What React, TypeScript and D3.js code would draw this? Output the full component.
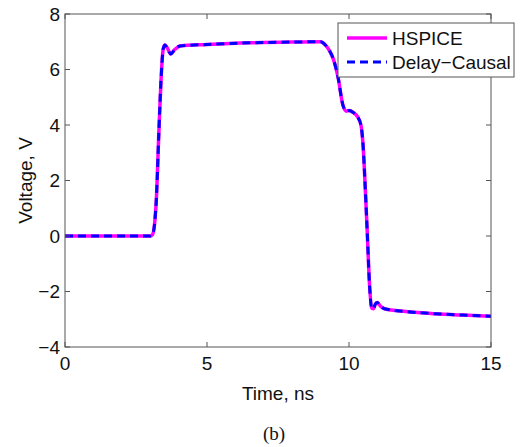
import { useEffect, useRef } from 'react';
import * as d3 from 'd3';

// time (ns) samples
const timeNs = [
  0, 1, 2, 3.0, 3.08, 3.15, 3.22, 3.3, 3.38, 3.46, 3.52, 3.6, 3.72, 3.85, 4.05, 5, 6.5, 8, 9.0,
  9.15, 9.3, 9.44, 9.61, 9.79, 9.9, 10.0, 10.15, 10.3, 10.42, 10.5, 10.56, 10.64, 10.72, 10.8,
  10.86, 10.93, 11.0, 11.1, 11.25, 12, 13, 14, 15,
];
const hspiceV = [
  0, 0, 0, 0, 0.05, 0.4, 1.4, 3.6, 5.6, 6.75, 6.88, 6.78, 6.56, 6.7, 6.85, 6.9, 6.96, 6.99, 7.0,
  6.9, 6.7, 6.4, 5.74, 4.7, 4.5, 4.52, 4.45, 4.3, 4.0, 3.2, 2.0, 0.2, -1.7, -2.6,
  -2.62, -2.45, -2.4, -2.52, -2.62, -2.72, -2.8, -2.85, -2.89,
];
const delayCausalV = [
  0, 0, 0, 0, 0.05, 0.4, 1.4, 3.6, 5.6, 6.75, 6.88, 6.78, 6.56, 6.7, 6.85, 6.9, 6.96, 6.99, 7.0,
  6.9, 6.7, 6.4, 5.74, 4.7, 4.5, 4.52, 4.45, 4.3, 4.0, 3.2, 2.0, 0.2, -1.7, -2.6,
  -2.62, -2.45, -2.4, -2.52, -2.62, -2.72, -2.8, -2.85, -2.89,
];
const xTicks = [0, 5, 10, 15];
const yTicks = [-4, -2, 0, 2, 4, 6, 8];
const seriesNames = ['HSPICE', 'Delay\u2212Causal'];

export default function App() {
  const svgRef = useRef<SVGSVGElement>(null);

  useEffect(() => {
    if (!svgRef.current) return;
    const width = 521;
    const height = 447;
    const box = { left: 65, right: 491, top: 14, bottom: 347 };
    const font = 'Liberation Sans, Arial, sans-serif';
    const fs = 19;
    const axisColor = '#555';

    const svg = d3.select(svgRef.current);
    svg.selectAll('*').remove();
    svg.attr('width', width).attr('height', height);

    const x = d3.scaleLinear().domain([0, 15]).range([box.left, box.right]);
    const y = d3.scaleLinear().domain([-4, 8]).range([box.bottom, box.top]);

    const fmt = (v: number) => (v < 0 ? '\u2212' + Math.abs(v) : String(v));

    // Curves
    const pts = (vals: number[]) => timeNs.map((t, i) => [t, vals[i]] as [number, number]);
    const line = d3
      .line<[number, number]>()
      .x((d) => x(d[0]))
      .y((d) => y(d[1]))
      .curve(d3.curveMonotoneX);

    svg.append('path')
      .datum(pts(hspiceV))
      .attr('d', line)
      .attr('fill', 'none')
      .attr('stroke', '#ff00ff')
      .attr('stroke-width', 3.5);

    svg.append('path')
      .datum(pts(delayCausalV))
      .attr('d', line)
      .attr('fill', 'none')
      .attr('stroke', '#0000ff')
      .attr('stroke-width', 3)
      .attr('stroke-dasharray', '8,5');

    // Box
    svg.append('rect')
      .attr('x', box.left)
      .attr('y', box.top)
      .attr('width', box.right - box.left)
      .attr('height', box.bottom - box.top)
      .attr('fill', 'none')
      .attr('stroke', axisColor)
      .attr('stroke-width', 1);

    const tickLen = 5;
    // X ticks (bottom + top, inward)
    xTicks.forEach((t) => {
      svg.append('line')
        .attr('x1', x(t)).attr('x2', x(t))
        .attr('y1', box.bottom).attr('y2', box.bottom - tickLen)
        .attr('stroke', axisColor);
      svg.append('line')
        .attr('x1', x(t)).attr('x2', x(t))
        .attr('y1', box.top).attr('y2', box.top + tickLen)
        .attr('stroke', axisColor);
      svg.append('text')
        .attr('x', x(t))
        .attr('y', box.bottom + 16)
        .attr('text-anchor', 'middle')
        .attr('dominant-baseline', 'central')
        .attr('font-family', font)
        .attr('font-size', fs)
        .attr('fill', '#111')
        .text(fmt(t));
    });

    // Y ticks (left + right, inward)
    yTicks.forEach((v) => {
      svg.append('line')
        .attr('x1', box.left).attr('x2', box.left + tickLen)
        .attr('y1', y(v)).attr('y2', y(v))
        .attr('stroke', axisColor);
      svg.append('line')
        .attr('x1', box.right).attr('x2', box.right - tickLen)
        .attr('y1', y(v)).attr('y2', y(v))
        .attr('stroke', axisColor);
      svg.append('text')
        .attr('x', box.left - 5)
        .attr('y', y(v))
        .attr('text-anchor', 'end')
        .attr('dominant-baseline', 'central')
        .attr('font-family', font)
        .attr('font-size', fs)
        .attr('fill', '#111')
        .text(fmt(v));
    });

    // Axis labels
    svg.append('text')
      .attr('x', (box.left + box.right) / 2)
      .attr('y', 393)
      .attr('text-anchor', 'middle')
      .attr('dominant-baseline', 'central')
      .attr('font-family', font)
      .attr('font-size', fs)
      .attr('fill', '#111')
      .text('Time, ns');

    svg.append('text')
      .attr('transform', `translate(25,${(box.top + box.bottom) / 2}) rotate(-90)`)
      .attr('text-anchor', 'middle')
      .attr('dominant-baseline', 'central')
      .attr('font-family', font)
      .attr('font-size', fs)
      .attr('fill', '#111')
      .text('Voltage, V');

    svg.append('text')
      .attr('x', 274)
      .attr('y', 433)
      .attr('text-anchor', 'middle')
      .attr('dominant-baseline', 'central')
      .attr('font-family', 'Liberation Serif, Times New Roman, serif')
      .attr('font-size', fs)
      .attr('fill', '#111')
      .text('(b)');

    // Legend
    const lg = svg.append('g');
    lg.append('rect')
      .attr('x', 338)
      .attr('y', 23)
      .attr('width', 176)
      .attr('height', 54)
      .attr('fill', '#fff')
      .attr('stroke', axisColor);
    const styles = [
      { color: '#ff00ff', width: 3.5, dash: null as string | null },
      { color: '#0000ff', width: 3, dash: '8,5' },
    ];
    seriesNames.forEach((name, i) => {
      const ly = 38 + i * 24;
      lg.append('line')
        .attr('x1', 347).attr('x2', 387)
        .attr('y1', ly).attr('y2', ly)
        .attr('stroke', styles[i].color)
        .attr('stroke-width', styles[i].width)
        .attr('stroke-dasharray', styles[i].dash);
      lg.append('text')
        .attr('x', 392)
        .attr('y', ly)
        .attr('dominant-baseline', 'central')
        .attr('font-family', font)
        .attr('font-size', fs)
        .attr('fill', '#111')
        .text(name);
    });
  }, []);

  return (
    <div style={{ position: 'absolute', left: 0, top: 0 }}>
      <svg ref={svgRef} style={{ display: 'block' }} />
    </div>
  );
}
